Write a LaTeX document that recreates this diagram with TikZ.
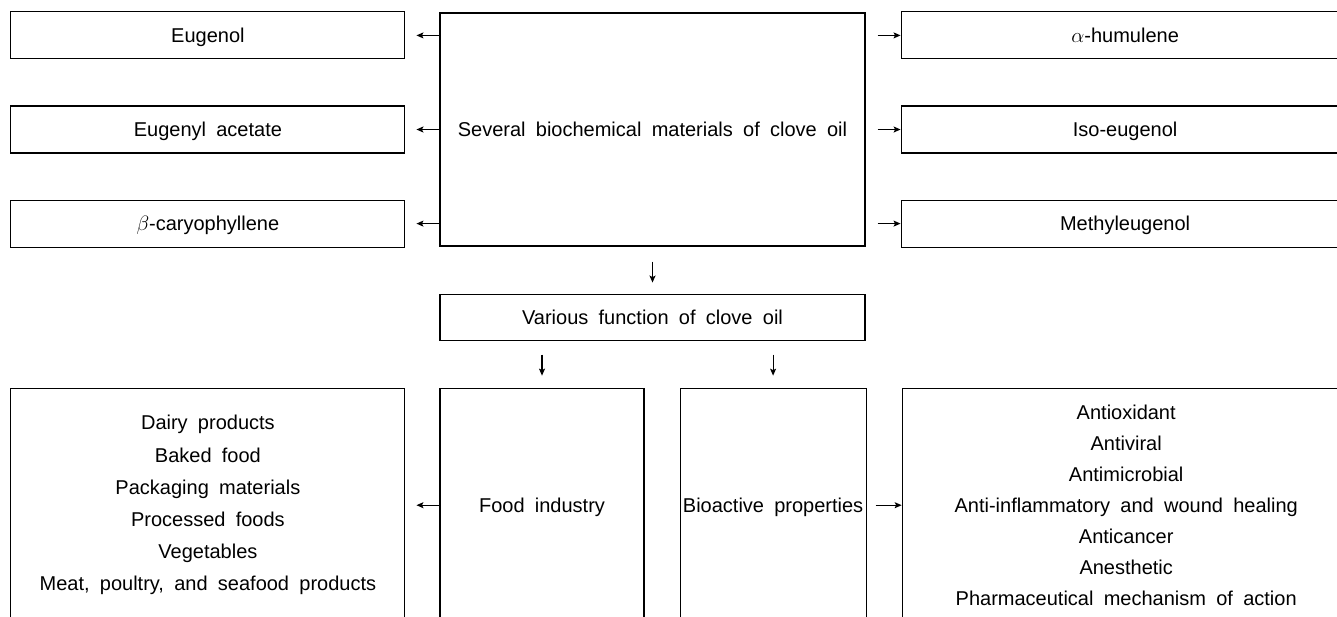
\documentclass[tikz,border=0pt]{standalone}
\usepackage{fontspec}
\setmainfont{Liberation Sans}[WordSpace=1.85]
\usepackage{tikz}
\usetikzlibrary{positioning, arrows, arrows.meta, shapes}
\tikzstyle{box} = [rectangle, inner sep=0pt, text centered, align=center, draw=black, line width=1.1pt]
\tikzstyle{oneline} = [box, text height=14.3pt, text depth=0pt]
\tikzstyle{item} = [oneline, minimum width=394pt, minimum height=47pt]
\tikzstyle{itemwide} = [item, minimum width=448pt]
\tikzstyle{hub} = [oneline, minimum width=425pt, minimum height=233pt]
\tikzstyle{field} = [box, minimum height=234pt]
\tikzstyle{arrow} = [line width=1.1pt,->,>={Stealth[length=7pt,width=6pt,inset=1.5pt]}]

\begin{document}
\begin{tikzpicture}[font=\fontsize{20}{31}\selectfont]
            \useasboundingbox (0,0) rectangle (1337pt,-616pt);
            \clip (0,0) rectangle (1337pt,-616pt);

            \node (several) [hub] at (652.5pt,-129.5pt) {Several biochemical materials of clove oil};
            \node (eugacet) [item, left=34pt of several] {Eugenyl acetate};
            \node (eugenol) [item, above=46pt of eugacet] {Eugenol};
            \node (caryo) [item, below=46pt of eugacet] {$\beta$-caryophyllene};
            \node (isoeug) [itemwide, right=35pt of several] {Iso-eugenol};
            \node (humulene) [itemwide, above=46pt of isoeug] {$\alpha$-humulene};
            \node (methyl) [itemwide, below=46pt of isoeug] {Methyleugenol};

            \node (various) [oneline, minimum width=425pt, minimum height=46pt, below=47pt of several] {Various function of clove oil};
            \node (food) [field, oneline, minimum width=204pt, below=47pt of various.south west, anchor=north west] {Food industry};
            \node (bioactive) [field, oneline, minimum width=186pt, right=35pt of food] {Bioactive properties};
            \node (foodlist) [field, minimum width=394pt, left=34pt of food, font=\fontsize{20}{32.2}\selectfont] {Dairy products\\Baked food\\Packaging materials\\Processed foods\\Vegetables\\Meat, poultry, and seafood products};
            \node (biolist) [field, minimum width=448pt, right=35pt of bioactive] {Antioxidant\\Antiviral\\Antimicrobial\\Anti-inflammatory and wound healing\\Anticancer\\Anesthetic\\Pharmaceutical mechanism of action};

            \draw [arrow, shorten >=11pt] (several.west |- eugenol) -- (eugenol);
            \draw [arrow, shorten >=11pt] (several.west |- eugacet) -- (eugacet);
            \draw [arrow, shorten >=11pt] (several.west |- caryo) -- (caryo);
            \draw [arrow, shorten <=12pt] (several.east |- humulene) -- (humulene);
            \draw [arrow, shorten <=12pt] (several.east |- isoeug) -- (isoeug);
            \draw [arrow, shorten <=12pt] (several.east |- methyl) -- (methyl);
            \draw [arrow, shorten <=15pt, shorten >=11pt] (several) -- (various);
            \draw [arrow, shorten <=14pt, shorten >=12pt] (food |- various.south) -- (food);
            \draw [arrow, shorten <=14pt, shorten >=12pt] (bioactive |- various.south) -- (bioactive);
            \draw [arrow, shorten >=11pt] (food) -- (foodlist);
            \draw [arrow, shorten <=9pt] (bioactive) -- (biolist);

            \end{tikzpicture}
\end{document}
